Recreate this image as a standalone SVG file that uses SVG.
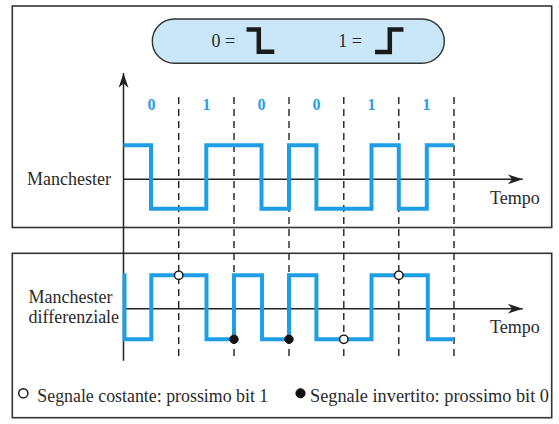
<svg xmlns="http://www.w3.org/2000/svg" width="559" height="424" viewBox="0 0 559 424">
  <style>
    .frame { fill: none; stroke: #333; stroke-width: 1.6; }
    .axis { fill: none; stroke: #222; stroke-width: 1.5; }
    .dash { fill: none; stroke: #222; stroke-width: 1.4; stroke-dasharray: 7 5; }
    .sig { fill: none; stroke: #1e9fe5; stroke-width: 4; stroke-linejoin: miter; stroke-linecap: butt; }
    .sym { fill: none; stroke: #1a1a1a; stroke-width: 4.5; stroke-linejoin: miter; stroke-linecap: butt; }
    .txt { font-family: "Liberation Serif", "Times New Roman", serif; font-size: 18px; fill: #2a2a2a; }
    .bit { font-family: "Liberation Serif", "Times New Roman", serif; font-size: 16px; font-weight: bold; fill: #2a9ee2; text-anchor: middle; }
    .open { fill: #fff; stroke: #111; stroke-width: 1.4; }
    .fill { fill: #111; stroke: #111; stroke-width: 1; }
  </style>
  <defs>
    <marker id="arrow" viewBox="-15 -5 15 10" refX="0" refY="0" markerWidth="15" markerHeight="10" markerUnits="userSpaceOnUse" orient="auto">
      <path d="M0,0 L-15,-5 L-10.5,0 L-15,5 Z" fill="#222"/>
    </marker>
  </defs>
  <rect width="559" height="424" fill="#fff"/>

  <g id="frame-top">
    <rect class="frame" x="12.3" y="6" width="539.4" height="221.5"/>
  </g>
  <g id="frame-bottom">
    <rect class="frame" x="12.3" y="253.3" width="539.4" height="164.4"/>
  </g>

  <g id="legend-pill">
    <rect x="152.3" y="19" width="292" height="44.3" rx="22.15" ry="22.15" fill="#c9e7f9" stroke="#333" stroke-width="1.4"/>
    <text class="txt" x="211.5" y="46.7">0 =</text>
    <path class="sym" d="M246.5,29.5 H258.8 V51.8 H274.3"/>
    <text class="txt" x="338.3" y="46.7">1 =</text>
    <path class="sym" d="M375,52 H389.8 V29.5 H403.5"/>
  </g>

  <g id="bit-labels">
    <text class="bit" x="151.5" y="109.5">0</text>
    <text class="bit" x="206.5" y="109.5">1</text>
    <text class="bit" x="261.5" y="109.5">0</text>
    <text class="bit" x="316.5" y="109.5">0</text>
    <text class="bit" x="371.5" y="109.5">1</text>
    <text class="bit" x="426.5" y="109.5">1</text>
  </g>

  <g id="connectors">
    <line class="dash" x1="178.7" y1="97" x2="178.7" y2="359"/>
    <line class="dash" x1="234" y1="97" x2="234" y2="359"/>
    <line class="dash" x1="289" y1="97" x2="289" y2="359"/>
    <line class="dash" x1="343.8" y1="97" x2="343.8" y2="359"/>
    <line class="dash" x1="398.8" y1="97" x2="398.8" y2="359"/>
    <line class="dash" x1="454" y1="97" x2="454" y2="359"/>
    <line class="axis" x1="123.5" y1="360.7" x2="123.5" y2="73" marker-end="url(#arrow)"/>
    <line class="axis" x1="123.5" y1="179.3" x2="522.7" y2="179.3" marker-end="url(#arrow)"/>
    <line class="axis" x1="123.5" y1="308.7" x2="522.7" y2="308.7" marker-end="url(#arrow)"/>
  </g>

  <g id="manchester">
    <text class="txt" x="111" y="185" text-anchor="end">Manchester</text>
    <text class="txt" x="490" y="204">Tempo</text>
    <path class="sig" d="M123.5,145.3 H151 V208.7 H206.3 V145.3 H261.5 V208.7 H289 V145.3 H316.4 V208.7 H371.5 V145.3 H398.8 V208.7 H426.8 V145.3 H454"/>
  </g>

  <g id="manchester-differenziale">
    <text class="txt" x="28.5" y="303.3">Manchester</text>
    <text class="txt" x="28.5" y="322.7">differenziale</text>
    <text class="txt" x="490" y="333.3">Tempo</text>
    <path class="sig" d="M124.5,273.3 V339.3 H151.3 V275.3 H206.5 V339.3 H234 V275.3 H262 V339.3 H289 V275.3 H316.4 V339.3 H371.5 V275.3 H427.8 V339.3 H454"/>
    <circle class="open" cx="178.7" cy="275.3" r="4.2"/>
    <circle class="fill" cx="234" cy="339.3" r="4.2"/>
    <circle class="fill" cx="289" cy="339.3" r="4.2"/>
    <circle class="open" cx="343.8" cy="339.3" r="4.2"/>
    <circle class="open" cx="398.8" cy="275.3" r="4.2"/>
  </g>

  <g id="legend">
    <circle class="open" cx="23.3" cy="393.3" r="4.6" stroke-width="1.7"/>
    <text class="txt" x="37.3" y="401.7" textLength="231" lengthAdjust="spacingAndGlyphs">Segnale costante: prossimo bit 1</text>
    <circle class="fill" cx="300.5" cy="393.3" r="4.6"/>
    <text class="txt" x="310" y="401.7" textLength="239" lengthAdjust="spacingAndGlyphs">Segnale invertito: prossimo bit 0</text>
  </g>
</svg>
